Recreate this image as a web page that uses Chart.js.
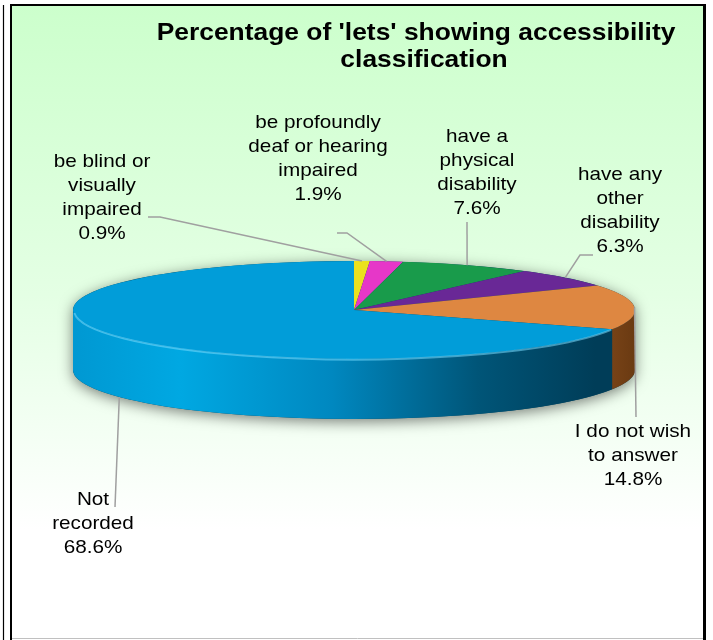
<!DOCTYPE html>
<html>
<head>
<meta charset="utf-8">
<script src="https://cdn.jsdelivr.net/npm/chart.js@4.4.1/dist/chart.umd.min.js"></script>
<style>
  html, body { margin: 0; padding: 0; background: #fff; }
  #wrap { width: 713px; height: 640px; }
</style>
</head>
<body>
<div id="wrap"><canvas id="pie"></canvas></div>
<script>
const titleLines = ["Percentage of 'lets' showing accessibility", 'classification'];
const categories = [
  'be blind or visually impaired',
  'be profoundly deaf or hearing impaired',
  'have a physical disability',
  'have any other disability',
  'I do not wish to answer',
  'Not recorded'
];
const values = [0.9, 1.9, 7.6, 6.3, 14.8, 68.6];
const labelLines = [
  ['be blind or', 'visually', 'impaired'],
  ['be profoundly', 'deaf or hearing', 'impaired'],
  ['have a', 'physical', 'disability'],
  ['have any', 'other', 'disability'],
  ['I do not wish', 'to answer'],
  ['Not', 'recorded']
];

const topColors = ['#ebe11e', '#e637c8', '#199b4b', '#692896', '#de8741', '#019dd9'];
const sideColors = ['#8a8410', '#8a2078', '#0e5c2c', '#3c1658', '#7d4619', '#005a80'];

// 3d look
const TILT = 49 / 281;
const DEPTH = 60;
const TEXT_STRETCH = 1.09;

// where Excel put each label (centre of first line) and the bends of its leader line
const labelLayout = [
  { x: 102, y: 162, path: [[160, 217], [148, 217]] },
  { x: 318, y: 123, path: [[347, 233], [337, 233]] },
  { x: 477, y: 137, path: [[467, 222]] },
  { x: 620, y: 175, path: [[580, 255], [593, 255]] },
  { x: 633, y: 432, path: [[636, 417]] },
  { x: 93, y: 500, path: [[115, 507]] }
];

function drawText(ctx, text, x, y, font, stretch) {
  ctx.save();
  ctx.translate(x, y);
  ctx.scale(stretch || TEXT_STRETCH, 1);
  ctx.font = font;
  ctx.textAlign = 'center';
  ctx.textBaseline = 'middle';
  ctx.fillStyle = '#000';
  ctx.fillText(text, 0, 0);
  ctx.restore();
}

const pie3d = {
  id: 'pie3d',
  beforeDraw(chart) {
    const ctx = chart.ctx;
    ctx.save();
    const g = ctx.createLinearGradient(0, 5, 0, 530);
    g.addColorStop(0, '#ccffcc');
    g.addColorStop(0.55, '#e4ffe4');
    g.addColorStop(1, '#ffffff');
    ctx.fillStyle = g;
    ctx.fillRect(11, 5, 693, 633);
    ctx.strokeStyle = '#000';
    ctx.lineWidth = 1.2;
    ctx.beginPath(); ctx.moveTo(3.5, 5); ctx.lineTo(3.5, 640); ctx.stroke();
    ctx.lineWidth = 2;
    ctx.beginPath(); ctx.moveTo(10, 5); ctx.lineTo(705, 5); ctx.stroke();
    ctx.beginPath(); ctx.moveTo(11, 4); ctx.lineTo(11, 640); ctx.stroke();
    ctx.lineWidth = 3;
    ctx.beginPath(); ctx.moveTo(704.5, 4); ctx.lineTo(704.5, 640); ctx.stroke();
    ctx.strokeStyle = '#c0c0c0';
    ctx.lineWidth = 1;
    ctx.beginPath(); ctx.moveTo(12, 638.5); ctx.lineTo(703, 638.5); ctx.stroke();
    ctx.restore();
  },
  beforeDatasetsDraw(chart) {
    const ctx = chart.ctx;
    const arcs = chart.getDatasetMeta(0).data;
    const cx = arcs[0].x, cy = arcs[0].y, rx = arcs[0].outerRadius, ry = rx * TILT;

    // soft shadow under the whole disc
    ctx.save();
    ctx.shadowColor = 'rgba(0,0,0,0.5)';
    ctx.shadowBlur = 14;
    ctx.shadowOffsetY = 3;
    ctx.fillStyle = '#00445f';
    ctx.beginPath();
    ctx.ellipse(cx, cy, rx, ry, 0, Math.PI, 2 * Math.PI);
    ctx.ellipse(cx, cy + DEPTH, rx, ry, 0, 0, Math.PI);
    ctx.closePath();
    ctx.fill();
    ctx.restore();

    // side walls of the front half
    arcs.forEach((arc, i) => {
      const s = Math.max(arc.startAngle, 0);
      const e = Math.min(arc.endAngle, Math.PI);
      if (s >= e) return;
      let fill = sideColors[i];
      if (i === 5) {
        fill = ctx.createLinearGradient(cx - rx, 0, cx + rx, 0);
        fill.addColorStop(0, '#0098d2');
        fill.addColorStop(0.19, '#00a8e2');
        fill.addColorStop(0.46, '#0088c0');
        fill.addColorStop(0.72, '#005578');
        fill.addColorStop(0.93, '#003d58');
        fill.addColorStop(1, '#003d58');
      } else if (i === 4) {
        fill = ctx.createLinearGradient(cx + rx * 0.9, 0, cx + rx, 0);
        fill.addColorStop(0, '#7a4418');
        fill.addColorStop(1, '#6a3a12');
      }
      ctx.save();
      ctx.fillStyle = fill;
      ctx.beginPath();
      ctx.ellipse(cx, cy, rx, ry, 0, s, e);
      ctx.ellipse(cx, cy + DEPTH, rx, ry, 0, e, s, true);
      ctx.closePath();
      ctx.fill();
      ctx.restore();
    });

    // squash the top face
    ctx.save();
    ctx.translate(0, cy);
    ctx.scale(1, TILT);
    ctx.translate(0, -cy);
  },
  afterDatasetsDraw(chart) {
    const ctx = chart.ctx;
    ctx.restore();
    const arcs = chart.getDatasetMeta(0).data;
    const cx = arcs[0].x, cy = arcs[0].y, rx = arcs[0].outerRadius, ry = rx * TILT;

    // light rim on the front edge
    ctx.save();
    ctx.strokeStyle = 'rgba(120,220,255,0.55)';
    ctx.lineWidth = 2;
    ctx.beginPath();
    ctx.ellipse(cx, cy + 0.5, rx - 1, ry, 0, Math.max(arcs[5].startAngle, 0.15), Math.PI - 0.05);
    ctx.stroke();
    ctx.restore();

    // leader lines + labels
    ctx.save();
    ctx.strokeStyle = '#a0a0a0';
    ctx.lineWidth = 1.5;
    arcs.forEach((arc, i) => {
      const mid = (arc.startAngle + arc.endAngle) / 2;
      const px = cx + rx * Math.cos(mid);
      let py = cy + ry * Math.sin(mid);
      if (Math.sin(mid) > 0.3) py += DEPTH;
      ctx.beginPath();
      ctx.moveTo(px, py);
      labelLayout[i].path.forEach(p => ctx.lineTo(p[0], p[1]));
      ctx.stroke();
    });
    ctx.restore();

    const font = '19px "Liberation Sans", Arial, sans-serif';
    labelLines.forEach((lines, i) => {
      const lay = labelLayout[i];
      const all = lines.concat([values[i].toFixed(1) + '%']);
      all.forEach((t, j) => drawText(ctx, t, lay.x, lay.y + j * 24, font));
    });

    const tfont = 'bold 24px "Liberation Sans", Arial, sans-serif';
    drawText(ctx, titleLines[0], 416, 33, tfont, 1.1);
    drawText(ctx, titleLines[1], 424, 60, tfont, 1.1);
  }
};

new Chart(document.getElementById('pie'), {
  type: 'pie',
  data: {
    labels: categories,
    datasets: [{
      data: values,
      backgroundColor: topColors,
      borderWidth: 0,
      radius: 281
    }]
  },
  options: {
    responsive: true,
    maintainAspectRatio: false,
    animation: false,
    events: [],
    layout: { padding: { left: 73, right: 78, top: 29, bottom: 49 } },
    plugins: {
      legend: { display: false },
      tooltip: { enabled: false },
      title: { display: false }
    }
  },
  plugins: [pie3d]
});
</script>
</body>
</html>
